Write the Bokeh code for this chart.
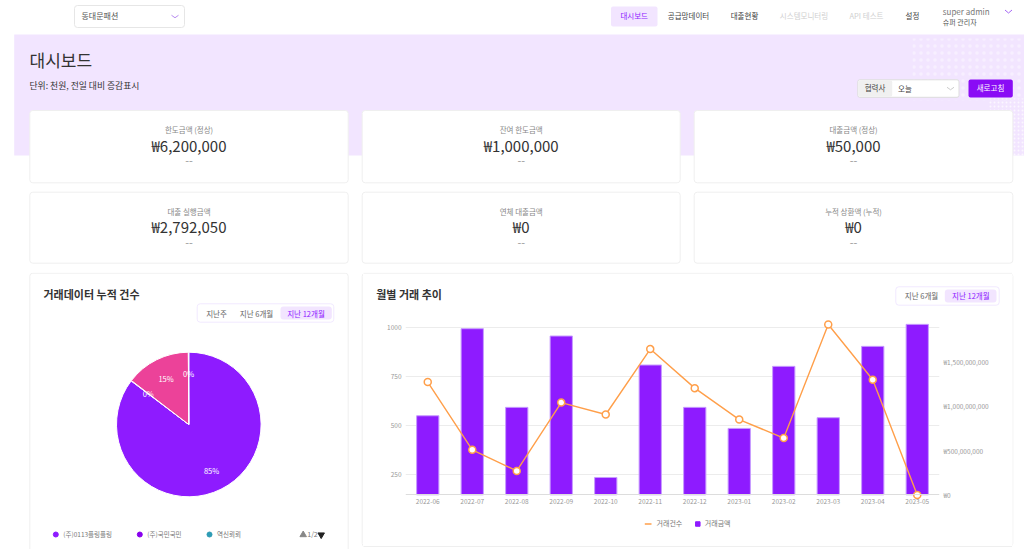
from bokeh.core.properties import value
from bokeh.embed import file_html
from bokeh.layouts import column, row
from bokeh.models import FixedTicker, LinearAxis, Range1d
from bokeh.plotting import figure
from bokeh.resources import INLINE
import numpy as np

FONT = "Noto Sans CJK KR"
PURPLE = "#8e1bff"
PALE = "#f2e5ff"
ORANGE = "#ff9f4a"
BORDER = "#efefef"

# kpi cards
card_titles = ["한도금액 (정상)", "잔여 한도금액", "대출금액 (정상)",
               "대출 실행금액", "연체 대출금액", "누적 상환액 (누적)"]
card_amounts = ["₩6,200,000", "₩1,000,000", "₩50,000", "₩2,792,050", "₩0", "₩0"]

# pie
pie_names = ["(주)0113플링플링", "(주)국민국민", "역신뢰뢰"]
pie_values = [85.3, 0.1, 14.5, 0.1]
pie_labels = ["85%", "0%", "15%", "0%"]
pie_colors = ["#8e1bff", "#8e1bff", "#ec4299", "#2e9cb5"]

# monthly chart
months = ["2022-06", "2022-07", "2022-08", "2022-09", "2022-10", "2022-11",
          "2022-12", "2023-01", "2023-02", "2023-03", "2023-04", "2023-05"]
trade_counts = [722, 375, 267, 617, 556, 891, 691, 530, 435, 1017, 734, 144]
trade_amounts = [894e6, 1879e6, 989e6, 1796e6, 196e6, 1468e6,
                 989e6, 751e6, 1453e6, 872e6, 1679e6, 1928e6]
count_ticks = [250, 500, 750, 1000]
amount_ticks = [0, 500000000, 1000000000, 1500000000]
amount_tick_labels = ["₩0", "₩500,000,000", "₩1,000,000,000", "₩1,500,000,000"]


def page_figure(x0, x1, y0, y1):
    # coordinates below are page pixels, y is negated so wedges keep their direction
    f = figure(width=x1 - x0, height=y1 - y0, x_range=Range1d(x0, x1), y_range=Range1d(-y1, -y0),
               output_backend="svg", toolbar_location=None, min_border=0, outline_line_color=None)
    f.axis.visible = False
    f.grid.visible = False
    return f


def box(f, x0, x1, y0, y1, fill="white", line=None, radius=3, **kw):
    f.quad(left=x0, right=x1, top=-y0, bottom=-y1, fill_color=fill, line_color=line,
           border_radius=radius, **kw)


def txt(f, x, y, s, size=8, color="#555555", align="center", style="normal"):
    f.text([x], [-y + 0.6], text=[s], text_font=value(FONT), text_font_size=f"{size}px", text_color=color,
           text_align=align, text_baseline="middle", text_font_style=style)


def chevron(f, x, y, color, w=3.5, h=2.5):
    f.line([x - w, x, x + w], [-y + h / 2, -y - h / 2, -y + h / 2], line_color=color, line_width=1)


top = page_figure(0, 1024, 0, 272)

# header
box(top, 74, 184, 5, 27, line="#e6e6e6")
txt(top, 81, 16, "동대문패션", 8, "#555555", "left")
chevron(top, 174.5, 16, "#b78cf0")
box(top, 610.5, 657, 6, 26, fill=PALE, radius=2)
nav = [(633.7, "대시보드", PURPLE), (688, "공급망데이터", "#444444"), (744, "대출현황", "#444444"),
       (803.5, "시스템모니터링", "#cfcfcf"), (866, "API 테스트", "#cfcfcf"), (912, "설정", "#444444")]
for x, s, c in nav:
    txt(top, x, 16, s, 7.5, c)
txt(top, 942.3, 11.5, "super admin", 8, "#777777", "left")
txt(top, 942.3, 22, "슈퍼 관리자", 7, "#555555", "left")
chevron(top, 1008, 11, "#a566f5", 3.5, 3)

# purple band
box(top, 13.7, 1024, 34, 155, fill=PALE, radius=0)
top.quad(left=912, right=1024, top=-38, bottom=-100, fill_alpha=0, line_color=None,
         hatch_pattern="dot", hatch_color="white", hatch_alpha=0.4, hatch_scale=7)
top.quad(left=988, right=1024, top=-98, bottom=-155, fill_alpha=0, line_color=None,
         hatch_pattern="dot", hatch_color="white", hatch_alpha=0.7, hatch_scale=4)
txt(top, 29, 60, "대시보드", 17, "#333333", "left")
txt(top, 29, 86, "단위: 천원, 전일 대비 증감표시", 8.8, "#333333", "left")

# partner filter and refresh button
box(top, 857.3, 958.5, 79.3, 96.8, line="#dddddd", radius=2)
box(top, 857.8, 891.7, 79.8, 96.3, fill="#f0f0f0", radius=2)
txt(top, 874.5, 88, "협력사", 7.5, "#444444")
txt(top, 897.5, 88.5, "오늘", 7.5, "#444444", "left")
chevron(top, 950, 88, "#cccccc")
box(top, 968, 1012.3, 79, 97, fill="#8a0cf5", radius=2)
txt(top, 990, 88, "새로고침", 7.5, "white")

# kpi cards
card_x = [(29.3, 347.7), (361.7, 679.7), (693.7, 1012.3)]
card_y = [(110, 182.3), (191.7, 262.7)]
for i, (title, amount) in enumerate(zip(card_titles, card_amounts)):
    x0, x1 = card_x[i % 3]
    y0, y1 = card_y[i // 3]
    xc = (x0 + x1) / 2
    box(top, x0, x1, y0, y1, line=BORDER)
    txt(top, xc, y0 + 19.5, title, 7.5, "#888888")
    txt(top, xc, y0 + 35.2, amount, 15, "#333333")
    txt(top, xc, y0 + 51.2, "--", 11, "#999999")

# pie panel, also carries the left edge of the monthly card
pie = page_figure(0, 363, 272, 549)
box(pie, 29.3, 347.7, 272.7, 600, line=BORDER)
box(pie, 361.7, 500, 272.7, 546, line=BORDER)
txt(pie, 43, 294, "거래데이터 누적 건수", 11, "#333333", "left", "bold")
box(pie, 196.7, 333.3, 303.3, 321.7, line="#f1e9ff")
box(pie, 280, 331.3, 306, 319, fill=PALE)
txt(pie, 216, 313.3, "지난주", 7.5, "#666666")
txt(pie, 256, 313.3, "지난 6개월", 7.5, "#666666")
txt(pie, 305.5, 313.3, "지난 12개월", 7.5, PURPLE)

edges = np.pi / 2 - np.cumsum([0] + pie_values) / 100 * 2 * np.pi
pie.wedge(x=188.3, y=-424, radius=72.3, start_angle=edges[1:], end_angle=edges[:-1],
          fill_color=pie_colors, line_color="white", line_width=1)
mids = (edges[1:] + edges[:-1]) / 2
for m, lab in zip(mids, pie_labels):
    pie.text([188.3 + 51 * np.cos(m)], [-424 + 51 * np.sin(m)], text=[lab], text_font=value(FONT),
             text_font_size="7.5px", text_color="white", text_align="center", text_baseline="middle")

for x, name, c in zip([55.3, 139.3, 209], pie_names, ["#8e1bff", "#8800ee", "#2e9cb5"]):
    pie.scatter([x], [-534], size=5, color=c)
    txt(pie, x + 7.5, 534, name, 6.5, "#777777", "left")
pie.scatter([302.7], [-534.3], marker="triangle", size=6.5, color="#888888")
txt(pie, 312, 534, "1/2", 7, "#777777")
pie.scatter([320.7], [-534.3], marker="inverted_triangle", size=6.5, color="#222222")

# monthly card head
head = page_figure(363, 1012, 272, 319)
box(head, 300, 1100, 272.7, 600, line=BORDER)
txt(head, 375.7, 294, "월별 거래 추이", 11, "#333333", "left", "bold")
box(head, 895.3, 998.7, 286.3, 304.7, line="#f1e9ff")
box(head, 944.3, 996, 289, 302, fill=PALE)
txt(head, 921, 296, "지난 6개월", 7.5, "#666666")
txt(head, 970.3, 296, "지난 12개월", 7.5, PURPLE)

# monthly chart, frame runs past the axis so end markers and x labels are not clipped
bar = figure(width=649, height=193, x_range=months, y_range=Range1d(64.1, 1042.6),
             output_backend="svg", toolbar_location=None, outline_line_color=None,
             min_border_left=42, min_border_right=73, min_border_top=0, min_border_bottom=2)
bar.extra_y_ranges = {"amount": Range1d(-177600000, 1983000000)}
bar.yaxis.visible = False
bar.xgrid.visible = False
bar.ygrid.grid_line_color = "#ececec"
bar.ygrid.ticker = FixedTicker(ticks=count_ticks)

bar_r = bar.vbar(x=months, top=trade_amounts, bottom=0, width=0.5, y_range_name="amount",
                 fill_color=PURPLE, line_color="#c79bff", line_width=1)
line_r = bar.line(months, trade_counts, line_color=ORANGE, line_width=1.4)
bar.scatter(months, trade_counts, size=7, fill_color="white", line_color=ORANGE, line_width=1.5)

left_axis = LinearAxis(ticker=FixedTicker(ticks=count_ticks))
right_axis = LinearAxis(y_range_name="amount", ticker=FixedTicker(ticks=amount_ticks),
                        major_label_overrides=dict(zip(amount_ticks, amount_tick_labels)))
for ax in (left_axis, right_axis, bar.xaxis[0]):
    ax.major_tick_line_color = None
    ax.minor_tick_line_color = None
    ax.major_tick_out = 0
    ax.major_label_text_font = FONT
    ax.major_label_text_font_size = "6.5px"
    ax.major_label_text_color = "#999999"
left_axis.axis_line_color = None
right_axis.axis_line_color = None
left_axis.major_label_standoff = 4
right_axis.major_label_standoff = 4
bar.xaxis[0].axis_line_color = "#dddddd"
bar.xaxis[0].major_label_standoff = 4
bar.xaxis[0].fixed_location = 144.5
bar.add_layout(left_axis, "left")
bar.add_layout(right_axis, "right")

# monthly card foot with the legend
foot = page_figure(363, 1012, 512, 549)
box(foot, 300, 1100, 400, 546, line=BORDER)
foot.line([644.3, 651], [-523.5, -523.5], line_color=ORANGE, line_width=1.5)
txt(foot, 656, 523.3, "거래건수", 7, "#777777", "left")
foot.scatter([697.3], [-523.5], marker="square", size=4.5, color=PURPLE)
txt(foot, 704.3, 523.3, "거래금액", 7, "#777777", "left")

# right edge of the monthly card
edge = page_figure(1012, 1024, 272, 549)
box(edge, 900, 1012.3, 272.7, 546, line=BORDER)

right = column(column(head), column(bar), column(foot), spacing=0)
page = column(top, row(column(pie), right, column(edge), spacing=0), spacing=0)
open("out.html", "w").write(file_html(page, INLINE))
